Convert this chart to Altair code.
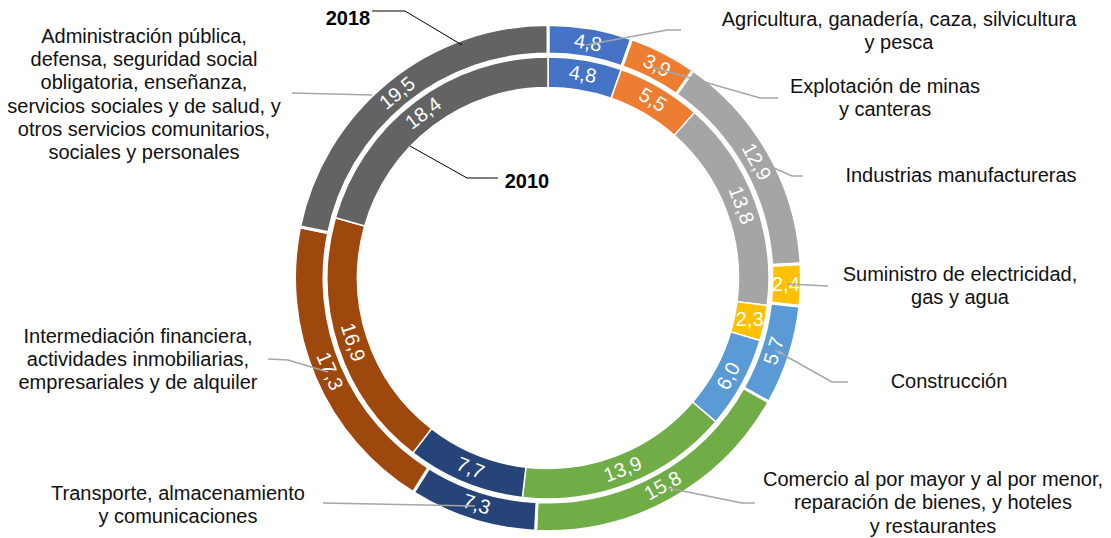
import math
import altair as alt
import pandas as pd

# ---------------- data ----------------
sectors = [
    "Agricultura, ganadería, caza, silvicultura\ny pesca",
    "Explotación de minas\ny canteras",
    "Industrias manufactureras",
    "Suministro de electricidad,\ngas y agua",
    "Construcción",
    "Comercio al por mayor y al por menor,\nreparación de bienes, y hoteles\ny restaurantes",
    "Transporte, almacenamiento\ny comunicaciones",
    "Intermediación financiera,\nactividades inmobiliarias,\nempresariales y de alquiler",
    "Administración pública,\ndefensa, seguridad social\nobligatoria, enseñanza,\nservicios sociales y de salud, y\notros servicios comunitarios,\nsociales y personales",
]
values_2010 = [4.8, 5.5, 13.8, 2.3, 6.0, 13.9, 7.7, 16.9, 18.4]
values_2018 = [4.8, 3.9, 12.9, 2.4, 5.7, 15.8, 7.3, 17.3, 19.5]
colors = ["#4472C4", "#ED7D31", "#A5A5A5", "#FFC000", "#5B9BD5",
          "#70AD47", "#264478", "#9E480E", "#636363"]
years = ["2010", "2018"]

# ---------------- layout (page pixels) ----------------
M = 8                      # page margin
CX, CY = 548 - M, 278 - M  # donut centre in chart coordinates
RING = {"2010": (190.5, 221, 206, 1.5), "2018": (224, 253.5, 238, 3)}
FONT = "Liberation Sans"
LH = 23.3

label_pos = [(899, 31.5), (885, 98.5), (961, 176), (960, 286.5), (949, 382),
             (933, 503.5), (178, 505.5), (138, 360), (144, 95)]
leaders = [
    [(586, 45), (667, 30), (681, 30)],
    [(652, 67), (760, 98), (778, 98)],
    [(774, 168), (792, 176), (803, 176)],
    [(787, 284), (828, 286)],
    [(775, 350), (832, 382), (848, 382)],
    [(668, 488), (742, 503), (755, 503)],
    [(475, 506), (323, 503)],
    [(328, 372), (288, 360), (268, 359)],
    [(372, 95), (292, 93)],
]
year_pos = {"2018": (348, 18.5), "2010": (527, 182)}
year_lines = {
    "2018": [(372, 11), (405, 11), (462, 45)],
    "2010": [(410, 146), (467, 178), (498, 178)],
}

# ---------------- derived tables ----------------
rows = []
for yr, vals in zip(years, [values_2010, values_2018]):
    total = sum(vals)
    acc = 0.0
    for i, v in enumerate(vals):
        t0 = acc / total * 2 * math.pi
        acc += v
        t1 = acc / total * 2 * math.pi
        mid = (t0 + t1) / 2
        deg = math.degrees(mid)
        if deg > 270:
            ang = deg - 360
        elif deg > 90:
            ang = deg - 180
        else:
            ang = deg
        if v < 3:
            ang = 0
        rows.append(dict(year=yr, idx=i, value=v, t0=t0, t1=t1, mid=mid,
                         ang=ang, col=colors[i],
                         label=f"{v:.1f}".replace(".", ",")))
df = pd.DataFrame(rows)

# first-line y so that the block of lines is centred on the anchor
lab_df = pd.DataFrame({
    "text": sectors,
    "x": [p[0] - M for p in label_pos],
    "y": [p[1] - M - (s.count("\n") * LH) / 2 for p, s in zip(label_pos, sectors)],
})

line_rows = []
for k, pts in enumerate(leaders):
    for j, (px, py) in enumerate(pts):
        line_rows.append(dict(id=k, ord=j, px=px - M, py=py - M))
line_df = pd.DataFrame(line_rows)

yl_rows = []
for yr, pts in year_lines.items():
    for j, (px, py) in enumerate(pts):
        yl_rows.append(dict(id=yr, ord=j, px=px - M, py=py - M))
yl_df = pd.DataFrame(yl_rows)

ylab_df = pd.DataFrame({
    "text": list(year_pos.keys()),
    "x": [p[0] - M for p in year_pos.values()],
    "y": [p[1] - M for p in year_pos.values()],
})

# ---------------- chart ----------------
layers = []
for yr in years:
    r_in, r_out, r_lab, sw = RING[yr]
    sub = df[df.year == yr]
    arcs = alt.Chart(sub).mark_arc(stroke="white", strokeWidth=sw).encode(
        theta=alt.Theta("t0:Q", scale=None),
        theta2="t1:Q",
        radius=alt.value(r_out),
        radius2=alt.value(r_in),
        x=alt.value(CX), y=alt.value(CY),
        fill=alt.Fill("col:N", scale=None),
    )
    txt = alt.Chart(sub).mark_text(
        font=FONT, fontSize=20, color="white", align="center", baseline="middle"
    ).encode(
        theta=alt.Theta("mid:Q", scale=None),
        radius=alt.value(r_lab),
        x=alt.value(CX), y=alt.value(CY),
        angle=alt.Angle("ang:Q", scale=None),
        text="label:N",
    )
    layers += [arcs, txt]

leader_lines = alt.Chart(line_df).mark_line(color="#A6A6A6", strokeWidth=1.5).encode(
    x=alt.X("px:Q", scale=None), y=alt.Y("py:Q", scale=None),
    detail="id:N", order="ord:Q",
)
year_leaders = alt.Chart(yl_df).mark_line(color="black", strokeWidth=1).encode(
    x=alt.X("px:Q", scale=None), y=alt.Y("py:Q", scale=None),
    detail="id:N", order="ord:Q",
)
sector_labels = alt.Chart(lab_df).mark_text(
    font=FONT, fontSize=20, color="#111111", align="center", baseline="middle",
    lineBreak="\n", lineHeight=LH,
).encode(
    x=alt.X("x:Q", scale=None), y=alt.Y("y:Q", scale=None), text="text:N",
)
year_labels = alt.Chart(ylab_df).mark_text(
    font=FONT, fontSize=20, fontWeight="bold", color="black",
    align="center", baseline="middle",
).encode(
    x=alt.X("x:Q", scale=None), y=alt.Y("y:Q", scale=None), text="text:N",
)

chart = alt.layer(*layers, leader_lines, year_leaders, sector_labels, year_labels).properties(
    width=1095, height=530, padding=0,
    autosize=alt.AutoSizeParams(type="none"),
).configure_view(stroke=None).configure_axis(disable=True)

chart.save("out.html", embed_options={"renderer": "svg", "actions": False})
